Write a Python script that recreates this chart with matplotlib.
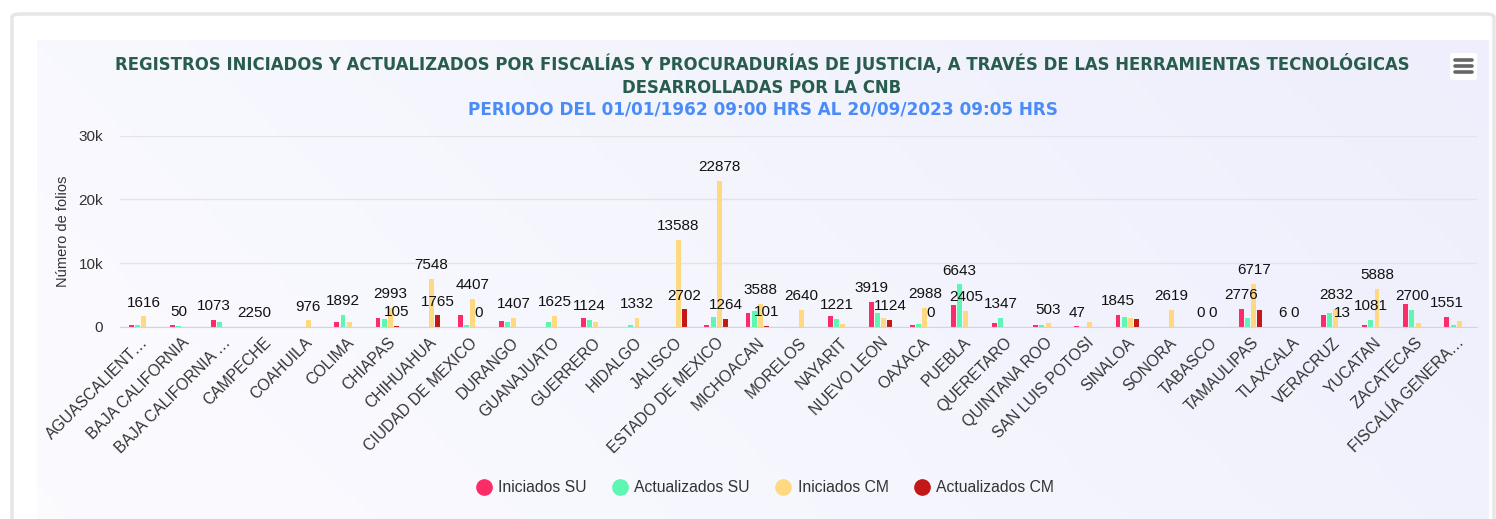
import numpy as np
import matplotlib
matplotlib.use("Agg")
import matplotlib.pyplot as plt
from matplotlib.patches import FancyBboxPatch
from matplotlib.lines import Line2D

plt.rcParams['font.family'] = ['Liberation Sans', 'DejaVu Sans']

categories = ["AGUASCALIENT…", "BAJA CALIFORNIA", "BAJA CALIFORNIA …", "CAMPECHE",
              "COAHUILA", "COLIMA", "CHIAPAS", "CHIHUAHUA", "CIUDAD DE MEXICO",
              "DURANGO", "GUANAJUATO", "GUERRERO", "HIDALGO", "JALISCO",
              "ESTADO DE MEXICO", "MICHOACAN", "MORELOS", "NAYARIT", "NUEVO LEON",
              "OAXACA", "PUEBLA", "QUERETARO", "QUINTANA ROO", "SAN LUIS POTOSI",
              "SINALOA", "SONORA", "TABASCO", "TAMAULIPAS", "TLAXCALA", "VERACRUZ",
              "YUCATAN", "ZACATECAS", "FISCALÍA GENERA…"]

series_names = ["Iniciados SU", "Actualizados SU", "Iniciados CM", "Actualizados CM"]

iniciados_su = [270, 270, 1073, 0, 0, 800, 1300, 0, 1840, 950, 0, 1300, 0, 0, 250,
                2100, 0, 1750, 3919, 270, 3450, 630, 270, 47, 1845, 0, 0, 2776, 6,
                1840, 330, 3600, 1551]
actualizados_su = [200, 50, 800, 0, 0, 1892, 1150, 0, 300, 800, 800, 1124, 250, 0,
                   1550, 2470, 0, 1221, 2100, 400, 6643, 1347, 270, 0, 1500, 0, 0,
                   1300, 0, 2100, 1081, 2700, 270]
iniciados_cm = [1616, 0, 0, 0, 976, 750, 2993, 7548, 4407, 1407, 1625, 750, 1332,
                13588, 22878, 3588, 2640, 400, 1420, 2988, 2405, 0, 503, 800, 1300,
                2619, 0, 6717, 0, 2832, 5888, 630, 900]
actualizados_cm = [0, 0, 0, 0, 0, 0, 105, 1765, 0, 0, 0, 0, 0, 2702, 1264, 101, 0,
                   0, 1124, 0, 0, 0, 0, 0, 1150, 0, 0, 2700, 0, 13, 0, 0, 0]

# data labels that remain visible (others are hidden by overlap)
lab_iniciados_su = ["", "", "1073", "2250", "", "", "", "", "", "", "", "", "", "",
                    "", "", "", "", "3919", "", "", "", "", "47", "1845", "", "0",
                    "2776", "6", "", "", "", "1551"]
lab_actualizados_su = ["", "50", "", "", "", "1892", "", "", "", "", "", "1124", "",
                       "", "", "", "", "1221", "", "", "6643", "1347", "", "", "", "",
                       "", "", "", "", "1081", "2700", ""]
lab_iniciados_cm = ["1616", "", "", "", "976", "", "2993", "7548", "4407", "1407",
                    "1625", "", "1332", "13588", "22878", "3588", "2640", "", "",
                    "2988", "2405", "", "503", "", "", "2619", "0", "6717", "0",
                    "2832", "5888", "", ""]
lab_actualizados_cm = ["", "", "", "", "", "", "105", "1765", "0", "", "", "", "",
                       "2702", "1264", "101", "", "", "1124", "0", "", "", "", "", "",
                       "", "", "", "", "13", "", "", ""]

colors = ["#fb2c67", "#5ff5b2", "#ffd97f", "#c21818"]

W, H = 1496, 519
fig = plt.figure(figsize=(W / 100, H / 100), dpi=100)
fig.patch.set_facecolor("white")


def fx(px):
    return px / W


def fy(py):
    return 1 - py / H


# card border
fig.patches.append(FancyBboxPatch((fx(12), fy(560)), fx(1482), (560 - 14) / H,
                                  boxstyle="round,pad=0,rounding_size=0.006",
                                  transform=fig.transFigure, facecolor="white",
                                  edgecolor="#e6e6e6", linewidth=2.5, zorder=0))

# chart background gradient
bg = fig.add_axes([fx(37), fy(519), fx(1489 - 37), (519 - 40) / H], zorder=0.5)
gx = np.linspace(0, 1, 200)
gy = np.linspace(0, 1, 60)
GX, GY = np.meshgrid(gx, gy)
t = np.clip(0.75 * GX + 0.25 * (1 - GY), 0, 1)
c0 = np.array([0.985, 0.985, 1.0])
c1 = np.array([0.935, 0.935, 0.99])
img = c0[None, None, :] * (1 - t[..., None]) + c1[None, None, :] * t[..., None]
bg.imshow(img, aspect="auto", extent=[0, 1, 0, 1], origin="upper")
bg.set_axis_off()

ax = fig.add_axes([fx(120), fy(326.7), fx(1476.7 - 120), (326.7 - 135.7) / H], zorder=2)
ax.set_facecolor("none")

x = np.arange(len(categories))
all_vals = [iniciados_su, actualizados_su, iniciados_cm, actualizados_cm]
all_labs = [lab_iniciados_su, lab_actualizados_su, lab_iniciados_cm, lab_actualizados_cm]
bw = 0.12
for k, (vals, labs) in enumerate(zip(all_vals, all_labs)):
    xs = x + (k - 1.5) * 0.15
    ax.bar(xs, vals, width=bw, color=colors[k], zorder=3, label=series_names[k])
    for xi, v, lab in zip(xs, vals, labs):
        if lab:
            ax.annotate(lab, (xi, v), xytext=(0, 10), textcoords="offset points",
                        ha="center", va="center", fontsize=11, color="#111111",
                        zorder=5)

ax.set_xlim(-0.5, len(categories) - 0.5)
ax.set_ylim(0, 30000)
ax.set_yticks([0, 10000, 20000, 30000])
ax.set_yticklabels(["0", "10k", "20k", "30k"], fontsize=11, color="#333333")
ax.grid(axis="y", color="#e3e3e8", linewidth=1, zorder=0)
for s in ["top", "right", "left"]:
    ax.spines[s].set_visible(False)
ax.spines["bottom"].set_color("#ccd6eb")
ax.spines["bottom"].set_zorder(4)
ax.tick_params(axis="y", length=0, pad=12)
ax.tick_params(axis="x", length=0, pad=6)
ax.set_xticks(x)
ax.set_xticklabels(categories, rotation=45, ha="right", rotation_mode="anchor",
                   fontsize=11.3, color="#333333")
ax.set_ylabel("Número de folios", fontsize=10.5, color="#333333", labelpad=6)

# titles
title_font = dict(family="DejaVu Sans", fontweight="bold", fontsize=11.9)
fig.text(fx(762), fy(63), "REGISTROS INICIADOS Y ACTUALIZADOS POR FISCALÍAS Y PROCURADURÍAS "
         "DE JUSTICIA, A TRAVÉS DE LAS HERRAMIENTAS TECNOLÓGICAS",
         ha="center", va="center", color="#285c4d", **title_font)
fig.text(fx(762), fy(88), "DESARROLLADAS POR LA CNB", ha="center", va="center",
         color="#285c4d", **title_font)
fig.text(fx(763), fy(110), "PERIODO DEL 01/01/1962 09:00 HRS AL 20/09/2023 09:05 HRS",
         ha="center", va="center", color="#4a8cf7",
         family="DejaVu Sans", fontweight="bold", fontsize=12.2)

# menu button
fig.patches.append(FancyBboxPatch((fx(1450), fy(80)), fx(27), 27 / H,
                                  boxstyle="round,pad=0,rounding_size=0.002",
                                  transform=fig.transFigure, facecolor="white",
                                  edgecolor="none", zorder=3))
for yy in [60, 66, 72]:
    fig.lines.append(Line2D([fx(1455), fx(1472)], [fy(yy), fy(yy)], color="#666666",
                            linewidth=2.6, solid_capstyle="round",
                            transform=fig.transFigure, zorder=4))

# legend
handles = [Line2D([0], [0], marker="o", linestyle="none", markersize=11,
                  markerfacecolor=c, markeredgecolor=c) for c in colors]
fig.legend(handles, series_names, loc="center", bbox_to_anchor=(fx(765), fy(488)),
           ncol=4, frameon=False, fontsize=11.3, handlelength=1.0, handletextpad=0.4,
           columnspacing=1.65, labelcolor="#333333")

fig.savefig("out.png", dpi=100)
